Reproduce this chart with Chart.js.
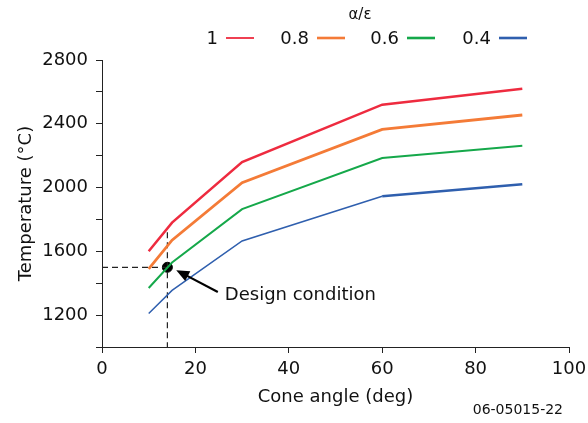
<!DOCTYPE html>
<html lang="en">
<head>
    <meta charset="UTF-8">
    <title>Temperature vs Cone angle</title>
    <script src="https://cdn.jsdelivr.net/npm/chart.js"></script>
    <style>
        body {
            margin: 0;
            background: #fff;
        }
        canvas {
            display: block;
        }
    </style>
</head>
<body>
    <canvas id="tempChart" width="588" height="423"></canvas>
    <script>
        // cone angle (deg) where each curve was computed
        const coneAngles = [10, 15, 30, 60, 90];

        // temperature (°C) for each alpha/epsilon ratio
        const ratioLabels = ['1', '0.8', '0.6', '0.4'];
        const tempRatio1 = [1600, 1780, 2160, 2520, 2620];
        const tempRatio08 = [1490, 1670, 2030, 2365, 2455];
        const tempRatio06 = [1370, 1530, 1865, 2185, 2262];
        const tempRatio04 = [1210, 1355, 1665, 1945, 2020];

        // design condition and its guide lines
        const designAngle = 14;
        const designTemp = 1500;
        const guideTop = 1720;

        const yLabelTicks = [1200, 1600, 2000, 2400, 2800];

        const FONT = 'DejaVu Sans';
        const colors = ['#ee2b3f', '#f47b37', '#15a84a', '#2f5fae'];

        function toPoints(ys) {
            return coneAngles.map((x, i) => ({ x: x, y: ys[i] }));
        }

        const series = [tempRatio1, tempRatio08, tempRatio06, tempRatio04];
        const widths = [2.5, 2.8, 2, 1.5];

        const datasets = series.map((ys, i) => ({
            label: ratioLabels[i],
            data: toPoints(ys),
            borderColor: colors[i],
            borderWidth: widths[i],
            pointRadius: 0,
            tension: 0,
            segment: i === 3 ? { borderWidth: c => c.p0DataIndex >= 3 ? 2.5 : 1.5 } : undefined
        }));

        // dashed guides to the design point
        datasets.push({
            label: 'hguide',
            data: [{ x: 0, y: designTemp }, { x: designAngle, y: designTemp }],
            borderColor: '#222',
            borderWidth: 1.2,
            borderDash: [6, 4],
            pointRadius: 0
        });
        datasets.push({
            label: 'vguide',
            data: [{ x: designAngle, y: guideTop }, { x: designAngle, y: 1000 }],
            borderColor: '#222',
            borderWidth: 1.2,
            borderDash: [6, 4],
            pointRadius: 0
        });
        datasets.push({
            label: 'design',
            data: [{ x: designAngle, y: designTemp }],
            showLine: false,
            pointRadius: 5,
            pointBackgroundColor: '#000',
            pointBorderColor: '#000'
        });

        // legend with text first, then line sample
        const legendPlugin = {
            id: 'customLegend',
            afterDraw(chart) {
                const ctx = chart.ctx;
                ctx.save();
                ctx.fillStyle = '#111';
                ctx.font = '15px ' + FONT;
                ctx.textAlign = 'center';
                ctx.textBaseline = 'middle';
                ctx.fillText('α/ε', 360, 15);
                const lineStarts = [226, 317, 407, 499];
                ctx.font = '18px ' + FONT;
                ctx.textAlign = 'right';
                ratioLabels.forEach((lab, i) => {
                    const x0 = lineStarts[i];
                    ctx.fillStyle = '#111';
                    ctx.fillText(lab, x0 - 8, 39);
                    ctx.strokeStyle = colors[i];
                    ctx.lineWidth = i === 0 ? 1.8 : 2.6;
                    ctx.beginPath();
                    ctx.moveTo(x0, 38);
                    ctx.lineTo(x0 + 28, 38);
                    ctx.stroke();
                });
                ctx.restore();
            }
        };

        // arrow + "Design condition" text, and figure id
        const notePlugin = {
            id: 'notes',
            afterDraw(chart) {
                const ctx = chart.ctx;
                const xs = chart.scales.x;
                const ys = chart.scales.y;
                const tipX = xs.getPixelForValue(15.9);
                const tipY = ys.getPixelForValue(1482);
                const tailX = xs.getPixelForValue(24.8);
                const tailY = ys.getPixelForValue(1345);
                const ang = Math.atan2(tipY - tailY, tipX - tailX);
                ctx.save();
                ctx.strokeStyle = '#000';
                ctx.fillStyle = '#000';
                ctx.lineWidth = 2.2;
                ctx.beginPath();
                ctx.moveTo(tailX, tailY);
                ctx.lineTo(tipX - 8 * Math.cos(ang), tipY - 8 * Math.sin(ang));
                ctx.stroke();
                ctx.beginPath();
                ctx.moveTo(tipX, tipY);
                ctx.lineTo(tipX - 13 * Math.cos(ang) + 5.5 * Math.sin(ang), tipY - 13 * Math.sin(ang) - 5.5 * Math.cos(ang));
                ctx.lineTo(tipX - 13 * Math.cos(ang) - 5.5 * Math.sin(ang), tipY - 13 * Math.sin(ang) + 5.5 * Math.cos(ang));
                ctx.closePath();
                ctx.fill();

                ctx.fillStyle = '#111';
                ctx.font = '18px ' + FONT;
                ctx.textAlign = 'left';
                ctx.textBaseline = 'middle';
                ctx.fillText('Design condition', xs.getPixelForValue(26.3), ys.getPixelForValue(1325));

                ctx.font = '14px ' + FONT;
                ctx.textAlign = 'right';
                ctx.fillText('06-05015-22', 563, 410);
                ctx.restore();
            }
        };

        const ctx = document.getElementById('tempChart').getContext('2d');
        new Chart(ctx, {
            type: 'line',
            data: { datasets: datasets },
            options: {
                responsive: false,
                animation: false,
                layout: { padding: { top: 60, right: 19, left: 0, bottom: 0 } },
                plugins: {
                    legend: { display: false },
                    tooltip: { enabled: false }
                },
                scales: {
                    x: {
                        type: 'linear',
                        min: 0,
                        max: 100,
                        afterFit: s => {
                            s.height = 76;
                            s.paddingLeft = 0;
                            s.paddingRight = 0;
                        },
                        border: { color: '#222', width: 1 },
                        grid: { drawOnChartArea: false, drawTicks: true, tickLength: 6, tickColor: '#222' },
                        ticks: {
                            stepSize: 20,
                            padding: 6,
                            color: '#111',
                            font: { family: FONT, size: 18 },
                            maxRotation: 0
                        },
                        title: {
                            display: true,
                            text: 'Cone angle (deg)',
                            color: '#111',
                            font: { family: FONT, size: 18 },
                            padding: { top: 0, bottom: 15 }
                        }
                    },
                    y: {
                        min: 1000,
                        max: 2800,
                        afterFit: s => {
                            s.width = 102;
                            s.paddingTop = 0;
                            s.paddingBottom = 0;
                        },
                        border: { color: '#222', width: 1 },
                        grid: { drawOnChartArea: false, drawTicks: true, tickLength: 6, tickColor: '#222' },
                        ticks: {
                            stepSize: 200,
                            padding: 8,
                            color: '#111',
                            font: { family: FONT, size: 18 },
                            callback: v => yLabelTicks.includes(v) ? String(v) : ''
                        },
                        title: {
                            display: true,
                            text: 'Temperature (°C)',
                            color: '#111',
                            font: { family: FONT, size: 18 },
                            padding: { top: 16, bottom: 0 }
                        }
                    }
                }
            },
            plugins: [legendPlugin, notePlugin]
        });
    </script>
</body>
</html>
